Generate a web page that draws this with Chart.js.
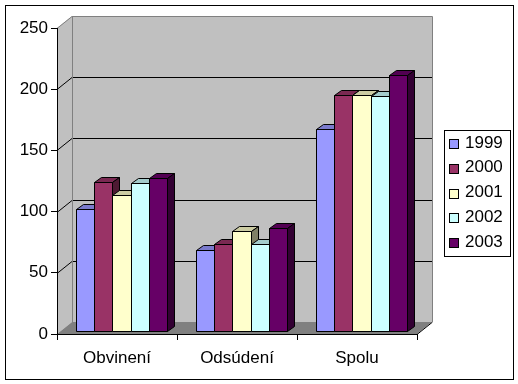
<!DOCTYPE html>
<html><head><meta charset="utf-8">
<script src="https://cdn.jsdelivr.net/npm/chart.js@4.4.0/dist/chart.umd.min.js"></script>
<style>html,body{margin:0;padding:0;background:#fff}</style>
</head><body><canvas id="c" width="518" height="384"></canvas>
<script>
const categories = ['Obvinení', 'Odsúdení', 'Spolu'];
const years = ['1999', '2000', '2001', '2002', '2003'];
const v1999 = [100, 66, 165];
const v2000 = [122, 71, 193];
const v2001 = [111, 82, 193];
const v2002 = [121, 71, 192];
const v2003 = [125, 84, 209];
const yTicks = [0, 50, 100, 150, 200, 250];
const colors = ['#9999FF', '#993366', '#FFFFCC', '#CCFFFF', '#660066'];
const series = [v1999, v2000, v2001, v2002, v2003];

const FONT = '"Liberation Sans", Arial, sans-serif';
const DX = 15, DY = -12;   // wall depth
const BX = 4.5, BY = -3;   // bar front plane offset
const PX = 7, PY = -5;     // bar depth

function shade(hex, f) {
  const n = parseInt(hex.slice(1), 16);
  const r = Math.round(((n >> 16) & 255) * f), g = Math.round(((n >> 8) & 255) * f), b = Math.round((n & 255) * f);
  return `rgb(${r},${g},${b})`;
}
function poly(ctx, pts, fill, stroke) {
  ctx.beginPath();
  ctx.moveTo(pts[0][0], pts[0][1]);
  for (let i = 1; i < pts.length; i++) ctx.lineTo(pts[i][0], pts[i][1]);
  ctx.closePath();
  if (fill) { ctx.fillStyle = fill; ctx.fill(); }
  if (stroke) { ctx.strokeStyle = stroke; ctx.lineWidth = 1; ctx.stroke(); }
}
const snap = v => Math.round(v) + 0.5;

const walls = {
  id: 'walls',
  beforeDraw(chart) {
    const { ctx, chartArea: a, scales: { y } } = chart;
    ctx.save();
    ctx.fillStyle = '#fff';
    ctx.fillRect(0, 0, chart.width, chart.height);
    ctx.strokeStyle = '#000'; ctx.lineWidth = 1;
    ctx.strokeRect(5.5, 5.5, 508, 374);
    const L = a.left, R = a.right;
    const T = y.getPixelForValue(yTicks[yTicks.length - 1]), B = y.getPixelForValue(0);
    // back wall
    poly(ctx, [[L + DX, T + DY], [R + DX, T + DY], [R + DX, B + DY], [L + DX, B + DY]], '#C0C0C0', null);
    // left wall
    poly(ctx, [[L, T], [L + DX, T + DY], [L + DX, B + DY], [L, B]], '#C0C0C0', null);
    // floor
    poly(ctx, [[L, B], [R, B], [R + DX, B + DY], [L + DX, B + DY]], '#808080', null);
    // gridlines
    ctx.lineWidth = 1;
    yTicks.forEach(v => {
      if (v === 0) return;
      const py = y.getPixelForValue(v);
      ctx.strokeStyle = (v === yTicks[yTicks.length - 1]) ? '#808080' : '#000';
      ctx.beginPath();
      ctx.moveTo(L, snap(py));
      ctx.lineTo(L + DX, snap(py + DY));
      ctx.lineTo(snap(R + DX), snap(py + DY));
      ctx.stroke();
    });
    // wall edges
    ctx.strokeStyle = '#808080';
    ctx.beginPath();
    ctx.moveTo(snap(L + DX), snap(T + DY)); ctx.lineTo(snap(L + DX), snap(B + DY));
    ctx.moveTo(snap(R + DX), snap(T + DY)); ctx.lineTo(snap(R + DX), snap(B + DY));
    ctx.stroke();
    ctx.strokeStyle = '#000';
    ctx.beginPath();
    ctx.moveTo(R, snap(B)); ctx.lineTo(R + DX, snap(B + DY));
    ctx.stroke();
    ctx.restore();
  },
  beforeDatasetsDraw(chart) {
    const { ctx } = chart;
    ctx.save();
    chart.data.datasets.forEach((ds, i) => {
      const meta = chart.getDatasetMeta(i);
      meta.data.forEach(el => {
        const p = el.getProps(['x', 'y', 'base', 'width'], true);
        const l = snap(p.x - p.width / 2 + BX), r = snap(p.x + p.width / 2 + BX);
        const t = snap(p.y + BY), b = snap(p.base + BY);
        const c = colors[i];
        poly(ctx, [[l, t], [r, t], [r, b], [l, b]], c, '#000');
        poly(ctx, [[l, t], [r, t], [r + PX, t + PY], [l + PX, t + PY]], shade(c, 0.8), '#000');
        poly(ctx, [[r, t], [r + PX, t + PY], [r + PX, b + PY], [r, b]], shade(c, 0.5), '#000');
      });
    });
    ctx.restore();
    return false;
  },
  afterDraw(chart) {
    const { ctx } = chart;
    ctx.save();
    ctx.strokeStyle = '#000'; ctx.lineWidth = 1;
    ctx.fillStyle = '#fff';
    ctx.fillRect(444.5, 130.5, 66, 126);
    ctx.strokeRect(444.5, 130.5, 66, 126);
    ctx.font = '17px ' + FONT;
    ctx.textBaseline = 'middle';
    ctx.textAlign = 'left';
    years.forEach((yr, i) => {
      const cy = 144 + i * 24.75;
      ctx.fillStyle = colors[i];
      ctx.fillRect(449.5, Math.round(cy - 5) + 0.5, 9, 9);
      ctx.strokeRect(449.5, Math.round(cy - 5) + 0.5, 9, 9);
      ctx.fillStyle = '#000';
      ctx.fillText(yr, 465, cy - 1);
    });
    ctx.restore();
  }
};

new Chart(document.getElementById('c'), {
  type: 'bar',
  data: {
    labels: categories,
    datasets: years.map((yr, i) => ({ label: yr, data: series[i], backgroundColor: colors[i] }))
  },
  options: {
    responsive: false,
    devicePixelRatio: 1,
    animation: false,
    categoryPercentage: 0.7625,
    barPercentage: 1,
    layout: { padding: { left: 0, top: 28, right: 101, bottom: 0 } },
    plugins: { legend: { display: false }, tooltip: { enabled: false } },
    scales: {
      y: {
        min: 0, max: 250,
        afterFit: s => { s.width = 57; },
        ticks: { stepSize: 50, color: '#000', font: { family: FONT, size: 17 }, padding: 3 },
        grid: { drawOnChartArea: false, drawTicks: true, tickLength: 6, color: '#000' },
        border: { display: true, color: '#000' }
      },
      x: {
        afterFit: s => { s.height = 50; },
        ticks: { color: '#000', font: { family: FONT, size: 17 }, padding: 8 },
        grid: { offset: true, drawOnChartArea: false, drawTicks: true, tickLength: 6, color: '#000' },
        border: { display: true, color: '#000' }
      }
    }
  },
  plugins: [walls]
});
</script>
</body></html>
